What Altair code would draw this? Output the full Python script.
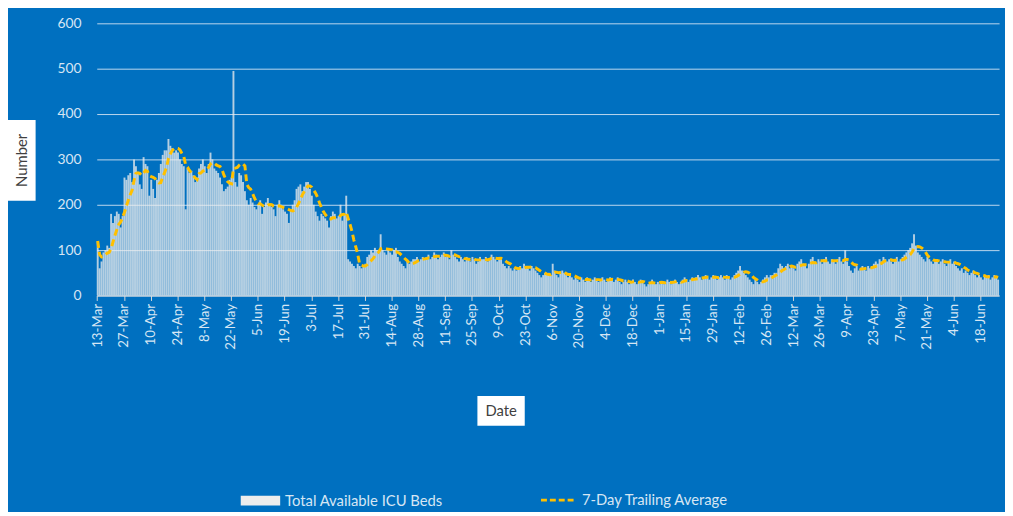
import altair as alt
import pandas as pd

# Daily total available ICU beds, 13-Mar-2020 .. 27-Jun-2021
mar20 = [120, 60, 75, 95, 100, 110, 105, 180, 160, 175, 185, 180, 150, 175, 260, 255, 265, 270, 250]
apr20 = [300, 285, 270, 245, 235, 305, 290, 285, 220, 255,
         235, 215, 255, 270, 290, 310, 320, 320, 345, 330,
         325, 315, 320, 315, 300, 290, 285, 190, 280, 270]
may20 = [275, 265, 250, 260, 280, 290, 300, 285, 270, 290,
         315, 300, 280, 275, 270, 260, 245, 230, 235, 240,
         255, 260, 495, 250, 240, 270, 265, 250, 230, 210, 200]
jun20 = [215, 205, 195, 190, 200, 210, 180, 195, 205, 215,
         200, 195, 190, 175, 200, 210, 200, 190, 185, 180,
         160, 190, 200, 210, 235, 240, 245, 230, 240, 250]
jul20 = [250, 235, 220, 200, 185, 175, 165, 180, 175, 170, 165, 150, 175,
         185, 180, 170, 175, 200, 165, 180, 220, 80, 75, 70, 65, 60, 70, 65, 60, 65, 70]
aug20 = [85, 90, 100, 95, 105, 100, 95, 135, 100, 95,
         90, 100, 95, 90, 100, 105, 85, 75, 70, 65,
         60, 75, 70, 75, 80, 80, 85, 75, 80, 85, 80]
sep20 = [85, 90, 80, 85, 95, 90, 80, 85, 90, 95,
         85, 90, 80, 100, 90, 85, 80, 75, 85, 80,
         75, 85, 80, 75, 85, 80, 70, 75, 85, 80]
oct20 = [80, 85, 75, 80, 90, 85, 80, 75, 85, 80,
         70, 65, 60, 65, 60, 55, 60, 55, 60, 65,
         60, 70, 65, 60, 55, 65, 60, 55, 50, 45, 40]
nov20 = [45, 50, 45, 50, 45, 70, 55, 45, 40, 50,
         55, 50, 45, 40, 45, 40, 35, 40, 35, 30,
         40, 35, 30, 40, 35, 30, 35, 40, 35, 30]
dec20 = [35, 40, 35, 30, 35, 40, 35, 30, 35, 40,
         30, 25, 30, 35, 30, 25, 30, 35, 30, 25,
         30, 35, 30, 25, 20, 25, 30, 35, 30, 25, 30]
jan21 = [25, 30, 25, 30, 35, 30, 25, 30, 35, 30,
         25, 30, 35, 40, 35, 30, 35, 40, 35, 40,
         45, 40, 35, 40, 45, 40, 35, 40, 45, 40, 35]
feb21 = [40, 45, 40, 35, 45, 40, 35, 40, 45, 50,
         55, 65, 55, 50, 45, 40, 35, 30, 25, 35,
         30, 25, 30, 35, 40, 45, 40, 45]
mar21 = [45, 50, 50, 60, 70, 65, 60, 65, 70, 60,
         65, 60, 55, 70, 75, 80, 70, 65, 60, 70,
         80, 85, 75, 70, 80, 75, 70, 80, 85, 75, 70]
apr21 = [80, 75, 70, 80, 85, 75, 70, 100, 75, 65,
         55, 50, 60, 65, 55, 60, 65, 60, 55, 65,
         60, 65, 70, 75, 70, 80, 75, 85, 80, 75]
may21 = [80, 75, 70, 80, 85, 75, 80, 85, 90, 95,
         100, 105, 115, 135, 110, 95, 90, 85, 80, 75,
         85, 80, 75, 70, 75, 80, 70, 75, 80, 70, 65]
jun21 = [75, 80, 70, 75, 65, 60, 55, 60, 50, 55,
         50, 45, 50, 55, 45, 40, 45, 40, 35, 45,
         40, 45, 35, 40, 45, 40, 35]

beds = (mar20 + apr20 + may20 + jun20 + jul20 + aug20 + sep20 + oct20 + nov20 + dec20
        + jan21 + feb21 + mar21 + apr21 + may21 + jun21)
start_date = "2020-03-13"
bar_label = "Total Available ICU Beds"
avg_label = "7-Day Trailing Average"
y_ticks = [0, 100, 200, 300, 400, 500, 600]

dates = pd.date_range(start_date, periods=len(beds), freq="D").strftime("%Y-%m-%d")
df = pd.DataFrame({"date": list(dates), "beds": beds})
tick_dates = list(df["date"][::14])

BG = "#0070C0"
LIGHT = "#D6E6F4"
FONT = "Lato"

x_enc = alt.X(
    "date:O",
    scale=alt.Scale(paddingInner=0, paddingOuter=0),
    axis=alt.Axis(
        values=tick_dates,
        labelExpr="utcFormat(toDate(datum.value), '%-d-%b')",
        labelAngle=270,
        labelFontSize=13.5,
        labelColor=LIGHT,
        labelFont=FONT,
        labelPadding=3,
        domainColor="#D9D9D9",
        tickColor="#D9D9D9",
        tickSize=5,
        grid=False,
        title=None,
    ),
)
y_enc_axis = alt.Axis(
    values=y_ticks,
    labelFontSize=14,
    labelColor=LIGHT,
    labelFont=FONT,
    labelPadding=16,
    domain=False,
    ticks=False,
    grid=True,
    gridColor="#BDD7EE",
    gridWidth=1,
    title=None,
)

base = alt.Chart(df)

bars = base.mark_bar(opacity=0.76).transform_calculate(
    s1=f"'{bar_label}'"
).encode(
    x=x_enc,
    y=alt.Y("beds:Q", scale=alt.Scale(domain=[0, 600]), axis=y_enc_axis),
    fill=alt.Fill(
        "s1:N",
        scale=alt.Scale(domain=[bar_label], range=["#EDEDED"]),
        legend=alt.Legend(
            orient="none", legendX=146, legendY=464, title=None, padding=0,
            symbolType="M-1,-0.25H1V0.25H-1Z", symbolSize=1600,
            symbolOpacity=1, symbolStrokeWidth=0, symbolFillColor="#FFFFFF",
            labelFont=FONT, labelFontSize=15, labelColor=LIGHT, labelOffset=5,
        ),
    ),
)

line = base.transform_window(
    avg="mean(beds)", frame=[-6, 0], sort=[alt.SortField("date")]
).transform_calculate(
    s2=f"'{avg_label}'"
).mark_line(strokeWidth=3, strokeDash=[7, 4]).encode(
    x=x_enc,
    y=alt.Y("avg:Q"),
    stroke=alt.Stroke(
        "s2:N",
        scale=alt.Scale(domain=[avg_label], range=["#FFC000"]),
        legend=alt.Legend(
            orient="none", legendX=449, legendY=464, title=None, padding=0,
            symbolType="stroke", symbolSize=1296, symbolStrokeWidth=3,
            symbolDash=[6, 3],
            labelFont=FONT, labelFontSize=15, labelColor=LIGHT, labelOffset=4,
        ),
    ),
)

ytitle_df = pd.DataFrame({"t": ["Number"]})
xtitle_df = pd.DataFrame({"t": ["Date"]})

ybox = alt.Chart(ytitle_df).mark_rect(color="white").encode(
    x=alt.value(-90), x2=alt.value(-62), y=alt.value(98), y2=alt.value(180)
)
ytext = alt.Chart(ytitle_df).mark_text(
    angle=270, font=FONT, fontSize=15, color="#404040", align="center", baseline="middle"
).encode(x=alt.value(-76), y=alt.value(139), text="t:N")

xbox = alt.Chart(xtitle_df).mark_rect(color="white").encode(
    x=alt.value(386), x2=alt.value(434), y=alt.value(378), y2=alt.value(408)
)
xtext = alt.Chart(xtitle_df).mark_text(
    font=FONT, fontSize=15, color="#404040", align="center", baseline="middle"
).encode(x=alt.value(410), y=alt.value(393), text="t:N")

chart = alt.layer(bars, line, ybox, ytext, xbox, xtext).properties(
    width=915, height=276,
    background=BG,
    padding={"top": 5, "left": 0, "right": 0, "bottom": 0},
).configure_view(stroke=None)

chart.save("out.html", embed_options={"renderer": "svg", "actions": False})
